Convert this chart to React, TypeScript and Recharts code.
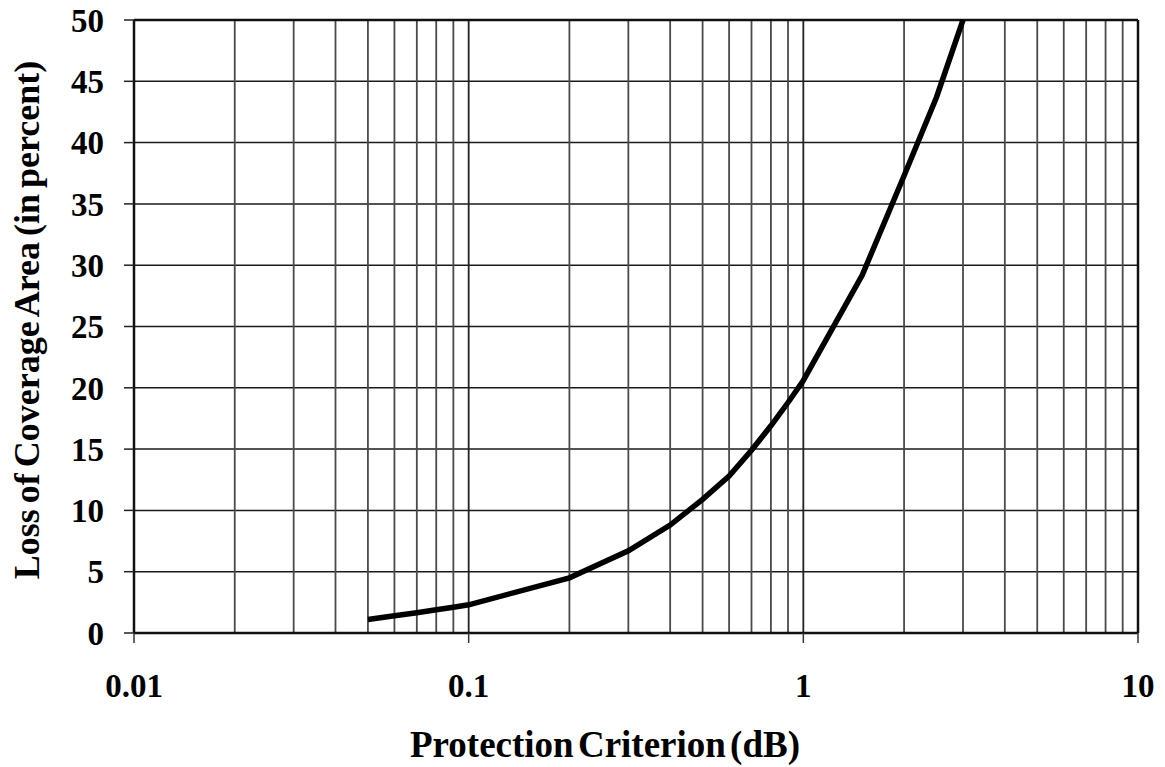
import { LineChart, Line, XAxis, YAxis, CartesianGrid, ReferenceLine, Label } from 'recharts'

// Protection criterion (dB) and loss of coverage area (%)
const criterionDb = [0.05, 0.06, 0.07, 0.08, 0.09, 0.1, 0.2, 0.3, 0.4, 0.5, 0.6, 0.7, 0.8, 0.9, 1, 1.5, 2, 2.5, 3]
const lossPct = [1.1, 1.4, 1.65, 1.9, 2.1, 2.3, 4.5, 6.7, 8.8, 10.9, 12.8, 14.9, 16.9, 18.8, 20.6, 29.2, 37.3, 43.7, 50]

const xTicks = [0.01, 0.1, 1, 10]
const yTicks = [0, 5, 10, 15, 20, 25, 30, 35, 40, 45, 50]
const minorX = [
  0.02, 0.03, 0.04, 0.05, 0.06, 0.07, 0.08, 0.09,
  0.2, 0.3, 0.4, 0.5, 0.6, 0.7, 0.8, 0.9,
  2, 3, 4, 5, 6, 7, 8, 9,
]

const FONT = '"Liberation Serif", "Times New Roman", serif'

const data = criterionDb.map((x, i) => ({ x, y: lossPct[i] }))

export default function App() {
  const tickStyle = { fill: '#000', fontFamily: FONT, fontWeight: 700, fontSize: 33 }

  return (
    <div style={{ position: 'absolute', left: 0, top: 0, background: '#fff' }}>
      <LineChart width={1165} height={767} data={data} margin={{ top: 20, right: 27, left: 34, bottom: 0 }}>
        <CartesianGrid stroke="#1a1a1a" strokeWidth={1.5} vertical={false} />
        {minorX.map((v) => (
          <ReferenceLine key={v} x={v} stroke="#4a4a4a" strokeWidth={1.8} ifOverflow="hidden" />
        ))}
        <ReferenceLine x={0.1} stroke="#222" strokeWidth={1.8} />
        <ReferenceLine x={1} stroke="#222" strokeWidth={1.8} />
        <ReferenceLine x={10} stroke="#111" strokeWidth={2.5} />
        <ReferenceLine y={50} stroke="#111" strokeWidth={2.5} />
        <XAxis
          dataKey="x"
          type="number"
          scale="log"
          domain={[0.01, 10]}
          ticks={xTicks}
          allowDataOverflow
          height={134}
          tickSize={10}
          tickMargin={31}
          axisLine={{ stroke: '#111', strokeWidth: 2.5 }}
          tickLine={{ stroke: '#333', strokeWidth: 1.5 }}
          tick={tickStyle}
        >
          <Label
            content={() => (
              <text
                x={605}
                y={757}
                textAnchor="middle"
                style={{ fill: '#000', fontFamily: FONT, fontWeight: 700, fontSize: 37, wordSpacing: -5 }}
              >
                Protection Criterion (dB)
              </text>
            )}
          />
        </XAxis>
        <YAxis
          type="number"
          domain={[0, 50]}
          ticks={yTicks}
          width={100}
          tickSize={10}
          tickMargin={20}
          axisLine={{ stroke: '#111', strokeWidth: 2.5 }}
          tickLine={{ stroke: '#222', strokeWidth: 1.5 }}
          tick={tickStyle}
        >
          <Label
            content={() => (
              <text
                x={39}
                y={320}
                transform="rotate(-90 39 320)"
                textAnchor="middle"
                style={{ fill: '#000', fontFamily: FONT, fontWeight: 700, fontSize: 36, wordSpacing: -3 }}
              >
                Loss of Coverage Area (in percent)
              </text>
            )}
          />
        </YAxis>
        <Line
          dataKey="y"
          type="linear"
          stroke="#000"
          strokeWidth={5.5}
          dot={false}
          isAnimationActive={false}
        />
      </LineChart>
    </div>
  )
}
